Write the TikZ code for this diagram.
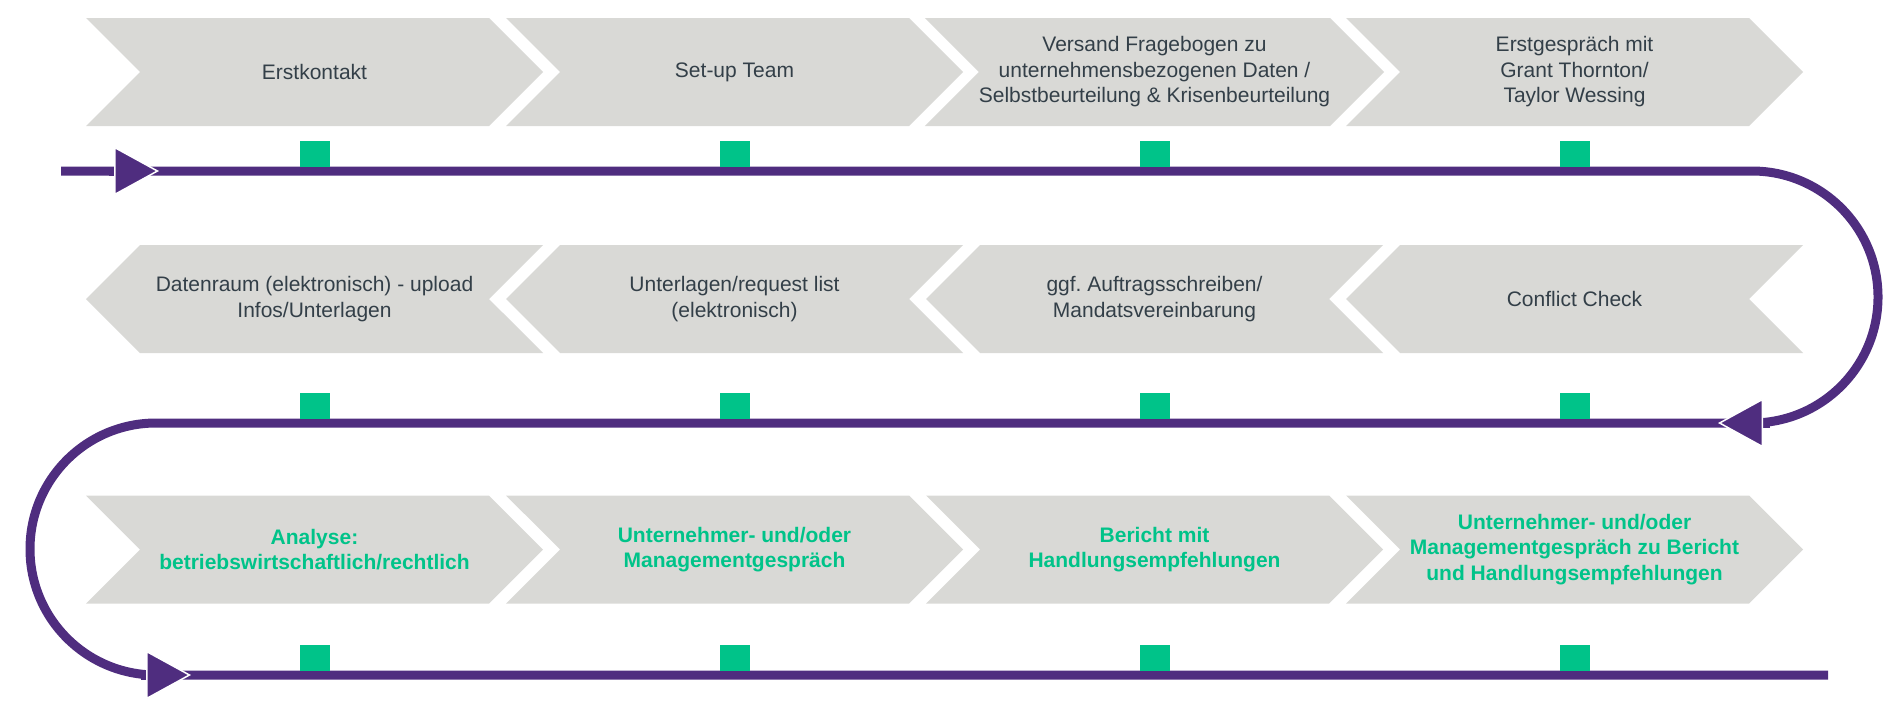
\documentclass[tikz,border=0pt]{standalone}
\usepackage{fontspec}
\setmainfont{Liberation Sans}
\usetikzlibrary{arrows.meta,positioning,shapes.symbols}
\definecolor{gtpurple}{HTML}{4F2D7F}
\definecolor{gtgreen}{HTML}{00C389}
\definecolor{gtgray}{HTML}{D9D9D6}
\definecolor{gttext}{HTML}{333F48}
\frenchspacing

\begin{document}
\begin{tikzpicture}[
  x=1pt, y=-1pt,
  chev/.style={
    shape=signal,
    fill=gtgray,
    inner sep=0pt,
    minimum width=457pt,
    minimum height=108pt,
    align=center,
    text=gttext,
    font=\fontsize{21}{25.5}\selectfont
  },
  fwdstep/.style={chev, signal to=east, signal from=west},
  backstep/.style={chev, signal to=west, signal from=east},
  resultstep/.style={fwdstep, text=gtgreen, font=\fontsize{21}{25.5}\selectfont\bfseries},
  marker/.style={fill=gtgreen, minimum width=30pt, minimum height=26pt, inner sep=0pt, anchor=south},
  timeline/.style={draw=gtpurple, line width=9pt},
  headarrow/.style={-{Triangle[length=45pt,width=49pt,line width=1.5pt,color=white,fill=gtpurple]}}
]
\useasboundingbox (0,0) rectangle (1902,707);
\node[fwdstep] (erst) at (314.5,72) {Erstkontakt};
\node[fwdstep] (team) at (734.5,72) {Set-up Team};
\node[fwdstep] (versand) at (1154.5,72) {Versand Fragebogen zu\\unternehmensbezogenen Daten /\\Selbstbeurteilung \& Krisenbeurteilung};
\node[fwdstep] (gespraech) at (1574.5,72) {Erstgespräch mit\\Grant Thornton/\\Taylor Wessing};
\node[backstep] (datenraum) at (314.5,299) {Datenraum (elektronisch) - upload\\Infos/Unterlagen};
\node[backstep] (unterlagen) at (734.5,299) {Unterlagen/request list\\(elektronisch)};
\node[backstep] (auftrag) at (1154.5,299) {ggf. Auftragsschreiben/\\Mandatsvereinbarung};
\node[backstep] (conflict) at (1574.5,299) {Conflict Check};
\node[resultstep] (analyse) at (314.5,549.5) {Analyse:\\betriebswirtschaftlich/rechtlich};
\node[resultstep] (management) at (734.5,549.5) {Unternehmer- und/oder\\Managementgespräch};
\node[resultstep] (bericht) at (1154.5,549.5) {Bericht mit\\Handlungsempfehlungen};
\node[resultstep] (abschluss) at (1574.5,549.5) {Unternehmer- und/oder\\Managementgespräch zu Bericht\\und Handlungsempfehlungen};
\coordinate (start) at (61,171);
\coordinate (finish) at (1828,675);
\coordinate (tip1) at (159,171);
\coordinate (tip2) at (1718,423);
\coordinate (tip3) at (191,675);
\draw[timeline, rounded corners=126pt] (start) -- (1878,171) -- (1878,423) -- (30,423) -- (30,675) -- (finish);
\node[marker] (erstmark) at (314.5,167) {};
\node[marker] (teammark) at (734.5,167) {};
\node[marker] (versandmark) at (1154.5,167) {};
\node[marker] (gespraechmark) at (1574.5,167) {};
\node[marker] (datenraummark) at (314.5,419) {};
\node[marker] (unterlagenmark) at (734.5,419) {};
\node[marker] (auftragmark) at (1154.5,419) {};
\node[marker] (conflictmark) at (1574.5,419) {};
\node[marker] (analysemark) at (314.5,671) {};
\node[marker] (managementmark) at (734.5,671) {};
\node[marker] (berichtmark) at (1154.5,671) {};
\node[marker] (abschlussmark) at (1574.5,671) {};
\draw[timeline, headarrow] (tip1) ++(-50,0) -- (tip1);
\draw[timeline, headarrow] (tip2) ++(52,0) -- (tip2);
\draw[timeline, headarrow] (tip3) ++(-50,0) -- (tip3);
\end{tikzpicture}
\end{document}
